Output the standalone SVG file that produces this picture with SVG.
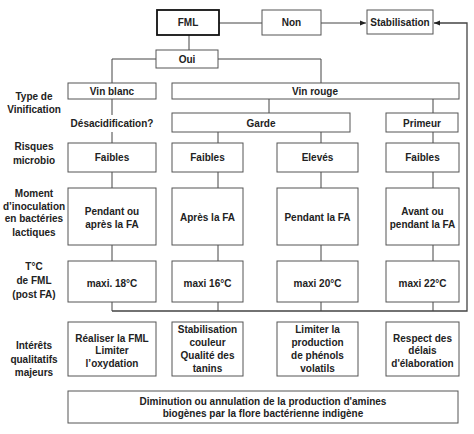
<svg xmlns="http://www.w3.org/2000/svg" width="474" height="434" viewBox="0 0 474 434">
<defs>
<style>
.box{fill:#fff;stroke:#555;stroke-width:1}
.t{font-family:"Liberation Sans",Arial,sans-serif;font-weight:bold;font-size:10px;fill:#222;text-anchor:middle}
.c{fill:none;stroke:#444;stroke-width:1}
</style>
<marker id="ah" viewBox="0 0 10 10" refX="10" refY="5" markerWidth="6" markerHeight="6" orient="auto" markerUnits="userSpaceOnUse">
<path d="M0,1 L10,5 L0,9 z" fill="#222"/>
</marker>
</defs>
<rect width="474" height="434" fill="#fff"/>
<g id="connectors">
<line class="c" x1="219" y1="23" x2="262" y2="23"/>
<line class="c" x1="321" y1="23" x2="366" y2="23" marker-end="url(#ah)"/>
<line class="c" x1="189" y1="35" x2="189" y2="50"/>
<polyline class="c" points="156,59 112,59 112,83"/>
<polyline class="c" points="218,59 321,59 321,83"/>
<line class="c" x1="112" y1="99" x2="112" y2="115"/>
<line class="c" x1="112" y1="132" x2="112" y2="143"/>
<line class="c" x1="269" y1="99" x2="269" y2="113"/>
<line class="c" x1="433" y1="99" x2="433" y2="113"/>
<line class="c" x1="218" y1="132" x2="218" y2="143"/>
<line class="c" x1="321" y1="132" x2="321" y2="143"/>
<line class="c" x1="433" y1="132" x2="433" y2="143"/>
<line class="c" x1="112" y1="172" x2="112" y2="188"/>
<line class="c" x1="218" y1="172" x2="218" y2="188"/>
<line class="c" x1="321" y1="172" x2="321" y2="188"/>
<line class="c" x1="433" y1="172" x2="433" y2="188"/>
<line class="c" x1="112" y1="245" x2="112" y2="261"/>
<line class="c" x1="218" y1="245" x2="218" y2="261"/>
<line class="c" x1="321" y1="245" x2="321" y2="261"/>
<line class="c" x1="433" y1="245" x2="433" y2="261"/>
<line class="c" x1="112" y1="302" x2="112" y2="311"/>
<line class="c" x1="218" y1="302" x2="218" y2="311"/>
<line class="c" x1="321" y1="302" x2="321" y2="311"/>
<line class="c" x1="433" y1="302" x2="433" y2="311"/>
<polyline class="c" points="112,311 467,311 467,23 434,23" marker-end="url(#ah)" style="stroke-width:1.3"/>
</g>
<g id="labels">
<text class="t" x="34"><tspan x="34" y="100">Type de</tspan><tspan x="34" y="113">Vinification</tspan></text>
<text class="t" x="34"><tspan x="34" y="150">Risques</tspan><tspan x="34" y="164">microbio</tspan></text>
<text class="t" x="34"><tspan x="34" y="197">Moment</tspan><tspan x="34" y="210">d’inoculation</tspan><tspan x="34" y="222">en bactéries</tspan><tspan x="34" y="236">lactiques</tspan></text>
<text class="t" x="34"><tspan x="34" y="270">T°C</tspan><tspan x="34" y="284">de FML</tspan><tspan x="34" y="298">(post FA)</tspan></text>
<text class="t" x="34"><tspan x="34" y="349">Intérêts</tspan><tspan x="34" y="363">qualitatifs</tspan><tspan x="34" y="376">majeurs</tspan></text>
</g>
<g id="fml"><rect x="157" y="10" width="62" height="25" fill="#fff" stroke="#111" stroke-width="1.8"/><text class="t" x="188" y="26">FML</text></g>
<g id="non"><rect class="box" x="262" y="10" width="59" height="25"/><text class="t" x="291.5" y="26">Non</text></g>
<g id="stabilisation"><rect class="box" x="367" y="10" width="66" height="24"/><text class="t" x="400" y="26">Stabilisation</text></g>
<g id="oui"><rect class="box" x="156" y="50" width="62" height="18"/><text class="t" x="187" y="63">Oui</text></g>
<g id="vin-blanc"><rect class="box" x="68" y="83" width="88" height="16"/><text class="t" x="112" y="95">Vin blanc</text></g>
<g id="vin-rouge"><rect class="box" x="172" y="83" width="287" height="16"/><text class="t" x="315" y="95">Vin rouge</text></g>
<g id="desacidification"><text class="t" x="112" y="127">Désacidification?</text></g>
<g id="garde"><rect class="box" x="172" y="113" width="178" height="19"/><text class="t" x="261" y="127">Garde</text></g>
<g id="primeur"><rect class="box" x="386" y="113" width="72" height="19"/><text class="t" x="422" y="127">Primeur</text></g>
<g id="risque1"><rect class="box" x="68" y="143" width="88" height="29"/><text class="t" x="112" y="161">Faibles</text></g>
<g id="risque2"><rect class="box" x="172" y="143" width="71" height="29"/><text class="t" x="207.5" y="161">Faibles</text></g>
<g id="risque3"><rect class="box" x="277" y="143" width="81" height="29"/><text class="t" x="317.5" y="161">Elevés</text></g>
<g id="risque4"><rect class="box" x="386" y="143" width="73" height="29"/><text class="t" x="422.5" y="161">Faibles</text></g>
<g id="moment1"><rect class="box" x="68" y="188" width="88" height="57"/><text class="t"><tspan x="112" y="215">Pendant ou</tspan><tspan x="112" y="228">après la FA</tspan></text></g>
<g id="moment2"><rect class="box" x="172" y="188" width="71" height="57"/><text class="t" x="207.5" y="221">Après la FA</text></g>
<g id="moment3"><rect class="box" x="277" y="188" width="81" height="57"/><text class="t" x="317.5" y="221">Pendant la FA</text></g>
<g id="moment4"><rect class="box" x="386" y="188" width="73" height="57"/><text class="t"><tspan x="422.5" y="215">Avant ou</tspan><tspan x="422.5" y="228">pendant la FA</tspan></text></g>
<g id="temp1"><rect class="box" x="68" y="261" width="88" height="41"/><text class="t" x="112" y="287">maxi. 18°C</text></g>
<g id="temp2"><rect class="box" x="172" y="261" width="71" height="41"/><text class="t" x="207.5" y="287">maxi 16°C</text></g>
<g id="temp3"><rect class="box" x="277" y="261" width="81" height="41"/><text class="t" x="317.5" y="287">maxi 20°C</text></g>
<g id="temp4"><rect class="box" x="386" y="261" width="73" height="41"/><text class="t" x="422.5" y="287">maxi 22°C</text></g>
<g id="interet1"><rect class="box" x="68" y="322" width="88" height="54"/><text class="t"><tspan x="112" y="342">Réaliser la FML</tspan><tspan x="112" y="354">Limiter</tspan><tspan x="112" y="367">l’oxydation</tspan></text></g>
<g id="interet2"><rect class="box" x="172" y="322" width="71" height="54"/><text class="t"><tspan x="207.5" y="333">Stabilisation</tspan><tspan x="207.5" y="346">couleur</tspan><tspan x="207.5" y="359">Qualité des</tspan><tspan x="207.5" y="372">tanins</tspan></text></g>
<g id="interet3"><rect class="box" x="277" y="322" width="81" height="54"/><text class="t"><tspan x="317.5" y="333">Limiter la</tspan><tspan x="317.5" y="346">production</tspan><tspan x="317.5" y="359">de phénols</tspan><tspan x="317.5" y="372">volatils</tspan></text></g>
<g id="interet4"><rect class="box" x="386" y="322" width="73" height="54"/><text class="t"><tspan x="422.5" y="342">Respect des</tspan><tspan x="422.5" y="354">délais</tspan><tspan x="422.5" y="367">d'élaboration</tspan></text></g>
<g id="amines"><rect class="box" x="68" y="391" width="390" height="32"/><text class="t"><tspan x="263" y="405">Diminution ou annulation de la production d'amines</tspan><tspan x="263" y="417">biogènes par la flore bactérienne indigène</tspan></text></g>
</svg>
